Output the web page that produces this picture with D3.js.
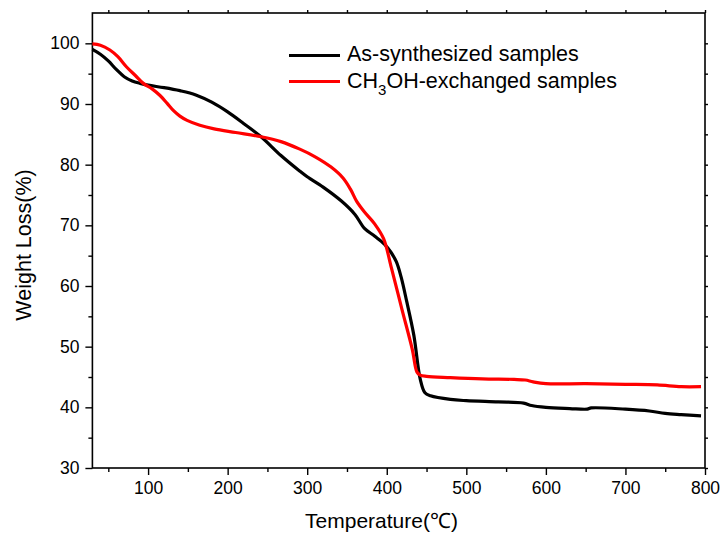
<!DOCTYPE html>
<html>
<head>
<meta charset="utf-8">
<script src="https://cdn.jsdelivr.net/npm/d3@7"></script>
<style>
  body { margin: 0; background: #fff; }
  svg { display: block; font-family: "Liberation Sans", Arial, sans-serif; }
</style>
</head>
<body>
<svg id="chart" width="723" height="536"></svg>
<script>
// Series data (temperature in C, weight in %)
const asTemp = [30, 40, 50, 60, 70, 80, 90, 100, 120, 140, 160, 180, 200, 220, 242, 267, 290, 300, 320, 343, 360, 372, 385, 397, 405, 412, 418, 425, 434, 442, 448, 455, 480, 500, 540, 572, 582, 600, 630, 652, 657, 700, 730, 750, 770, 795];
const asWeight = [99.0, 98.2, 97.1, 95.7, 94.5, 93.8, 93.4, 93.1, 92.7, 92.2, 91.5, 90.3, 88.7, 86.8, 84.6, 81.5, 79.0, 78.0, 76.3, 74.0, 71.8, 69.5, 68.2, 66.9, 65.6, 64.0, 61.5, 57.5, 51.9, 44.7, 42.4, 41.9, 41.3, 41.1, 40.9, 40.7, 40.3, 40.0, 39.8, 39.7, 39.9, 39.7, 39.4, 39.0, 38.8, 38.6];

const meTemp = [30, 40, 52, 62, 73, 84, 94, 105, 115, 124, 132, 140, 149, 165, 183, 210, 242, 267, 290, 310, 330, 345, 355, 362, 372, 385, 396, 406, 419, 432, 438, 442, 450, 480, 520, 560, 574, 584, 600, 650, 700, 740, 770, 795];
const meWeight = [99.9, 99.7, 98.9, 97.8, 96.1, 94.7, 93.4, 92.5, 91.4, 90.1, 88.9, 88.0, 87.3, 86.5, 85.9, 85.3, 84.6, 83.8, 82.6, 81.3, 79.6, 77.8, 75.8, 74.0, 72.2, 70.2, 67.8, 62.9, 56.2, 49.6, 45.8, 45.3, 45.1, 44.9, 44.7, 44.6, 44.5, 44.2, 43.9, 43.9, 43.8, 43.7, 43.4, 43.4];

const xTicks = [100, 200, 300, 400, 500, 600, 700, 800];
const xMinor = [50, 150, 250, 350, 450, 550, 650, 750];
const yTicks = [30, 40, 50, 60, 70, 80, 90, 100];
const yMinor = [35, 45, 55, 65, 75, 85, 95];

const W = 723, H = 536;
const margin = {top: 13, right: 18, bottom: 68, left: 92.4};

const svg = d3.select("#chart");

const x = d3.scaleLinear().domain([30, 800]).range([margin.left, W - margin.right]);
const y = d3.scaleLinear().domain([30, 105]).range([H - margin.bottom, margin.top]);

function styleAxis(g) {
    g.select(".domain").remove();
    g.selectAll("line").attr("stroke", "#000").attr("stroke-width", 1.4);
    g.selectAll("text").attr("fill", "#000").attr("font-size", "17.5px");
}

// bottom axis
svg.append("g")
    .attr("transform", `translate(0,${y(30)})`)
    .call(d3.axisBottom(x).tickValues(xTicks).tickSize(7).tickPadding(7).tickFormat(d3.format("d")))
    .call(styleAxis);
svg.append("g")
    .attr("transform", `translate(0,${y(30)})`)
    .call(d3.axisBottom(x).tickValues(xMinor).tickSize(4).tickFormat(""))
    .call(styleAxis);

// left axis
svg.append("g")
    .attr("transform", `translate(${x(30)},0)`)
    .call(d3.axisLeft(y).tickValues(yTicks).tickSize(7).tickPadding(6).tickFormat(d3.format("d")))
    .call(styleAxis);
svg.append("g")
    .attr("transform", `translate(${x(30)},0)`)
    .call(d3.axisLeft(y).tickValues(yMinor).tickSize(4).tickFormat(""))
    .call(styleAxis);

// top and right: ticks only
svg.append("g")
    .attr("transform", `translate(0,${y(105)})`)
    .call(d3.axisTop(x).tickValues(xTicks.concat(xMinor)).tickSize(3).tickFormat(""))
    .call(styleAxis);
svg.append("g")
    .attr("transform", `translate(${x(800)},0)`)
    .call(d3.axisRight(y).tickValues(yTicks.concat(yMinor)).tickSize(3).tickFormat(""))
    .call(styleAxis);

// frame
svg.append("rect")
    .attr("x", x(30)).attr("y", y(105))
    .attr("width", x(800) - x(30)).attr("height", y(30) - y(105))
    .attr("fill", "none").attr("stroke", "#000").attr("stroke-width", 1.6);

const line = d3.line()
    .x(d => x(d[0]))
    .y(d => y(d[1]))
    .curve(d3.curveCatmullRom.alpha(0.5));

svg.append("path")
    .datum(asTemp.map((t, i) => [t, asWeight[i]]))
    .attr("fill", "none").attr("stroke", "#000").attr("stroke-width", 3.2)
    .attr("stroke-linejoin", "round")
    .attr("d", line);

svg.append("path")
    .datum(meTemp.map((t, i) => [t, meWeight[i]]))
    .attr("fill", "none").attr("stroke", "#ff0000").attr("stroke-width", 3.2)
    .attr("stroke-linejoin", "round")
    .attr("d", line);

// legend
const lg = svg.append("g").attr("font-size", "21.5px");
lg.append("line").attr("x1", 289).attr("x2", 340).attr("y1", 55.5).attr("y2", 55.5)
    .attr("stroke", "#000").attr("stroke-width", 3);
lg.append("text").attr("x", 347).attr("y", 61).text("As-synthesized samples");
lg.append("line").attr("x1", 289).attr("x2", 340).attr("y1", 81.5).attr("y2", 81.5)
    .attr("stroke", "#ff0000").attr("stroke-width", 3);
const t2 = lg.append("text").attr("x", 347).attr("y", 88);
t2.append("tspan").text("CH");
t2.append("tspan").attr("font-size", "15px").attr("dy", 7).text("3");
t2.append("tspan").attr("dy", -7).text("OH-exchanged samples");

// axis titles
svg.append("text")
    .attr("x", 381.5).attr("y", 528)
    .attr("text-anchor", "middle").attr("font-size", "21px")
    .text("Temperature(℃)");

svg.append("text")
    .attr("transform", "translate(31,245) rotate(-90)")
    .attr("text-anchor", "middle").attr("font-size", "21.5px")
    .text("Weight Loss(%)");
</script>
</body>
</html>
